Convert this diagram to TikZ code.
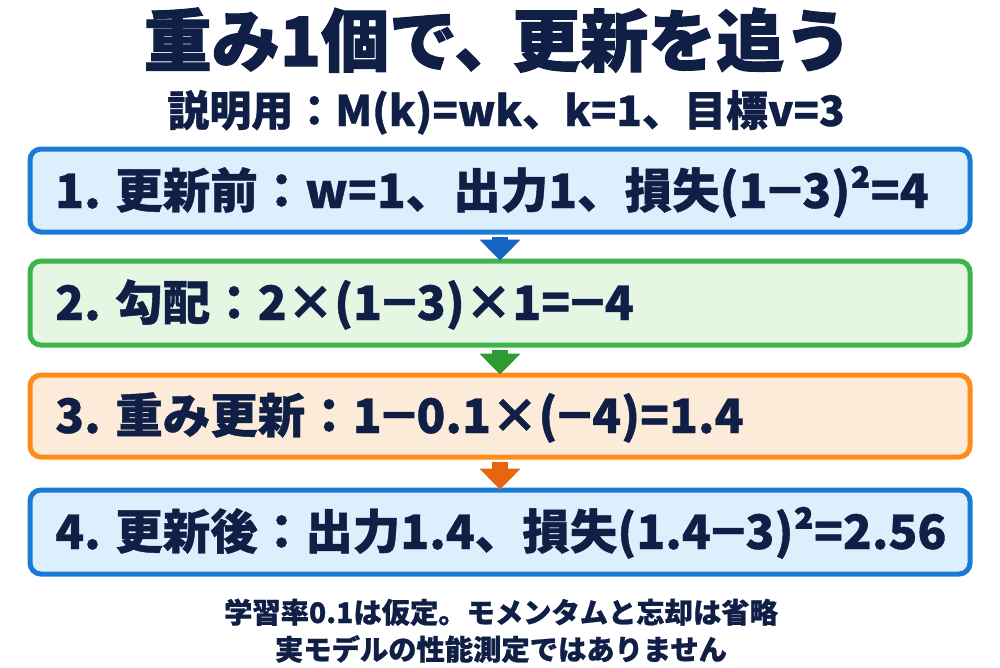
\documentclass[tikz,border=0pt]{standalone}
\usepackage{fontspec}
\usepackage{graphicx}
\setmainfont{Noto Sans CJK JP}
\newfontfamily\heavy{Noto Sans CJK JP}[BoldFeatures={FakeBold=1.6}]
\newfontfamily\semiheavy{Noto Sans CJK JP}[BoldFeatures={FakeBold=0.8}]
\newcommand{\mn}{\scalebox{1.2}[1]{−}}
\usetikzlibrary{arrows.meta,calc}
\definecolor{navy}{HTML}{0F1F45}
\definecolor{bluedraw}{HTML}{1A7BD6}
\definecolor{bluefill}{HTML}{DDEEFC}
\definecolor{greendraw}{HTML}{3DB54A}
\definecolor{greenfill}{HTML}{E5F6E3}
\definecolor{orangedraw}{HTML}{FF8C1A}
\definecolor{orangefill}{HTML}{FDEBD9}
\definecolor{bluearrow}{HTML}{1565C0}
\definecolor{greenarrow}{HTML}{2E9A30}
\definecolor{orangearrow}{HTML}{E8650F}
\tikzset{
  stepbox/.style={rectangle, rounded corners=11pt, line width=5pt,
    minimum width=940pt, inner sep=0pt},
  steptext/.style={anchor=base west, inner sep=0pt, text=navy,
    font=\fontsize{47.5}{52}\selectfont\semiheavy\bfseries},
  flow/.style={line width=16pt, -{Triangle[width=40pt,length=21pt]}},
  titletext/.style={anchor=base, inner sep=0pt, text=navy,
    font=\fontsize{68}{72}\selectfont\heavy\bfseries},
  subtext/.style={anchor=base, inner sep=0pt, text=navy,
    font=\fontsize{42}{46}\selectfont\semiheavy\bfseries},
  foottext/.style={anchor=base, inner sep=0pt, text=navy,
    font=\fontsize{28.3}{32}\selectfont\semiheavy\bfseries},
}
\begin{document}
\begin{tikzpicture}[x=1pt,y=-1pt]
\useasboundingbox[fill=white] (0,0) rectangle (1000,667);
\node[titletext] (title) at (498,66) {重み1個で、\kern-0.15em更新を追う};
\node[subtext] (subtitle) at (506,126) {説明用：M(k)=wk、k=1、目標v=3};

\node[stepbox, draw=bluedraw, fill=bluefill, minimum height=83pt] (b1) at (500,190.5) {};
\node[stepbox, draw=greendraw, fill=greenfill, minimum height=84pt] (b2) at (500,303) {};
\node[stepbox, draw=orangedraw, fill=orangefill, minimum height=82pt] (b3) at (500,416) {};
\node[stepbox, draw=bluedraw, fill=bluefill, minimum height=84pt] (b4) at (500,532) {};

\node[steptext] (t1) at (55,208) {1. 更新前：w=1、出力1、損失(1\mn3)²=4};
\node[steptext] (t2) at (55,320) {2. 勾配：2×(1\mn3)×1=\mn4};
\node[steptext] (t3) at (55,433) {3. 重み更新：1\mn0.1×(\mn4)=1.4};
\node[steptext] (t4) at (55,549) {4. 更新後：出力1.4、損失(1.4\mn3)²=2.56};

\draw[flow, bluearrow] ($(b1.south)+(0,2)$) -- ($(b2.north)+(0,2)$);
\draw[flow, greenarrow] ($(b2.south)+(0,2)$) -- ($(b3.north)+(0,2)$);
\draw[flow, orangearrow] ($(b3.south)+(0,2)$) -- ($(b4.north)+(0,2)$);

\node[foottext] (f1) at (501,623) {学習率0.1は仮定。モメンタムと忘却は省略};
\node[foottext] (f2) at (501,660) {実モデルの性能測定ではありません};
\end{tikzpicture}
\end{document}
